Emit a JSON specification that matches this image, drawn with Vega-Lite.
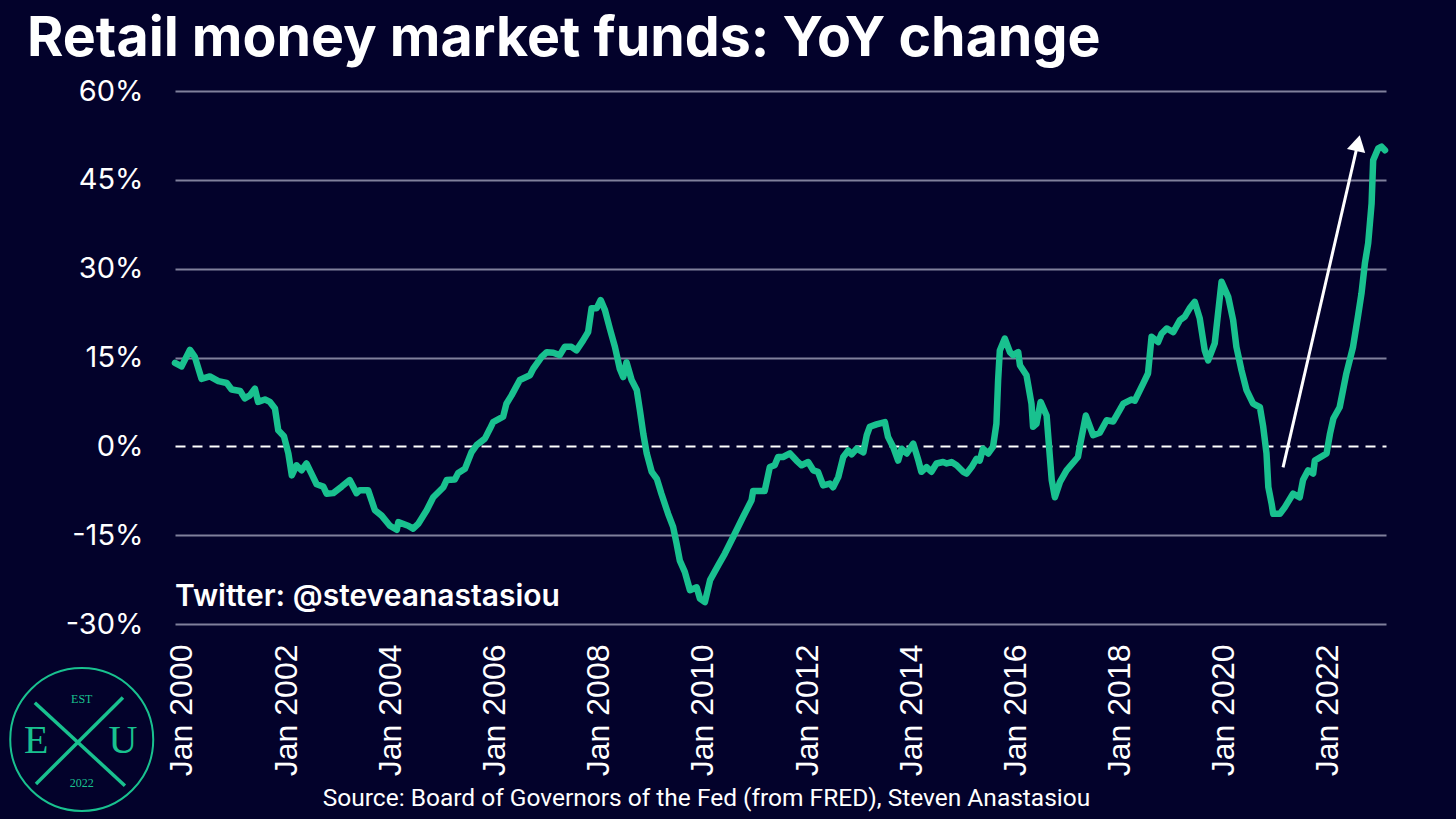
{
 "$schema": "https://vega.github.io/schema/vega-lite/v6.json",
 "width": 1211,
 "height": 533,
 "autosize": {"type": "none"},
 "padding": {"left": 175, "top": 91, "right": 70, "bottom": 195},
 "background": "#03022b",
 "title": {"text": "Retail money market funds: YoY change", "anchor": "start", "frame": "group", "dx": -148, "dy": 55, "offset": 21, "baseline": "alphabetic", "font": "Inter", "fontSize": 55.5, "fontWeight": "bold", "color": "#ffffff"},
 "config": {"view": {"stroke": null}},
 "datasets": {
  "series": [
   {"date":"1999-11-13","v":14.1},{"date":"1999-12-29","v":13.5},{"date":"2000-02-26","v":16.3},{"date":"2000-03-31","v":15.1},{"date":"2000-05-17","v":11.4},{"date":"2000-07-14","v":11.8},{"date":"2000-09-12","v":11.0},{"date":"2000-11-10","v":10.7},{"date":"2000-12-14","v":9.6},{"date":"2001-02-12","v":9.35},{"date":"2001-03-16","v":8.1},{"date":"2001-04-21","v":8.6},{"date":"2001-05-26","v":9.75},{"date":"2001-06-18","v":7.5},{"date":"2001-08-05","v":7.9},{"date":"2001-09-09","v":7.5},{"date":"2001-10-14","v":6.4},{"date":"2001-11-06","v":2.7},{"date":"2001-12-16","v":1.7},{"date":"2002-01-16","v":-1.2},{"date":"2002-02-09","v":-4.9},{"date":"2002-03-14","v":-3.2},{"date":"2002-04-18","v":-4.05},{"date":"2002-05-23","v":-2.9},{"date":"2002-06-27","v":-4.6},{"date":"2002-08-02","v":-6.4},{"date":"2002-09-18","v":-6.8},{"date":"2002-10-11","v":-8.0},{"date":"2002-11-27","v":-7.9},{"date":"2003-01-25","v":-6.8},{"date":"2003-03-22","v":-5.7},{"date":"2003-05-09","v":-7.9},{"date":"2003-06-01","v":-7.4},{"date":"2003-07-29","v":-7.4},{"date":"2003-09-15","v":-10.8},{"date":"2003-11-01","v":-11.7},{"date":"2003-12-29","v":-13.4},{"date":"2004-02-15","v":-14.1},{"date":"2004-02-26","v":-12.8},{"date":"2004-05-05","v":-13.4},{"date":"2004-06-09","v":-13.9},{"date":"2004-07-14","v":-13.1},{"date":"2004-09-12","v":-10.8},{"date":"2004-10-28","v":-8.6},{"date":"2005-01-07","v":-6.9},{"date":"2005-01-30","v":-5.7},{"date":"2005-03-28","v":-5.6},{"date":"2005-04-21","v":-4.5},{"date":"2005-06-07","v":-3.8},{"date":"2005-07-23","v":-1.0},{"date":"2005-08-28","v":0.2},{"date":"2005-10-25","v":1.3},{"date":"2005-11-30","v":3.0},{"date":"2005-12-22","v":4.1},{"date":"2006-03-02","v":5.0},{"date":"2006-03-25","v":7.2},{"date":"2006-04-30","v":8.6},{"date":"2006-06-27","v":11.2},{"date":"2006-09-06","v":12.0},{"date":"2006-09-29","v":13.1},{"date":"2006-11-27","v":15.1},{"date":"2007-01-02","v":15.9},{"date":"2007-02-17","v":15.8},{"date":"2007-04-03","v":15.4},{"date":"2007-05-08","v":16.8},{"date":"2007-06-24","v":16.8},{"date":"2007-07-29","v":16.2},{"date":"2007-09-14","v":17.9},{"date":"2007-10-19","v":19.3},{"date":"2007-11-12","v":23.3},{"date":"2007-12-17","v":23.3},{"date":"2008-01-15","v":24.7},{"date":"2008-02-14","v":23.0},{"date":"2008-03-19","v":19.9},{"date":"2008-04-24","v":16.8},{"date":"2008-05-28","v":13.1},{"date":"2008-06-21","v":11.7},{"date":"2008-07-14","v":14.2},{"date":"2008-08-19","v":11.2},{"date":"2008-09-24","v":9.5},{"date":"2008-10-16","v":6.1},{"date":"2008-11-09","v":2.1},{"date":"2008-12-03","v":-1.2},{"date":"2009-01-07","v":-4.3},{"date":"2009-02-12","v":-5.5},{"date":"2009-03-16","v":-8.0},{"date":"2009-05-02","v":-11.4},{"date":"2009-06-06","v":-13.6},{"date":"2009-06-30","v":-16.4},{"date":"2009-07-23","v":-19.3},{"date":"2009-08-27","v":-21.2},{"date":"2009-10-02","v":-24.3},{"date":"2009-11-18","v":-23.8},{"date":"2009-12-11","v":-25.7},{"date":"2010-01-15","v":-26.3},{"date":"2010-02-20","v":-22.6},{"date":"2010-04-18","v":-20.1},{"date":"2010-06-04","v":-18.1},{"date":"2010-08-01","v":-15.3},{"date":"2010-10-10","v":-11.9},{"date":"2010-12-08","v":-9.1},{"date":"2010-12-19","v":-7.55},{"date":"2011-03-10","v":-7.55},{"date":"2011-04-15","v":-3.5},{"date":"2011-05-19","v":-3.2},{"date":"2011-06-12","v":-1.8},{"date":"2011-07-17","v":-1.8},{"date":"2011-09-03","v":-1.2},{"date":"2011-10-19","v":-2.4},{"date":"2011-11-24","v":-3.2},{"date":"2012-01-09","v":-2.65},{"date":"2012-02-14","v":-4.05},{"date":"2012-03-18","v":-4.3},{"date":"2012-04-23","v":-6.6},{"date":"2012-06-09","v":-6.3},{"date":"2012-07-02","v":-6.9},{"date":"2012-08-07","v":-5.2},{"date":"2012-09-11","v":-1.8},{"date":"2012-10-16","v":-0.7},{"date":"2012-11-09","v":-1.35},{"date":"2012-12-14","v":-0.4},{"date":"2013-01-30","v":-1.0},{"date":"2013-02-23","v":1.9},{"date":"2013-03-16","v":3.3},{"date":"2013-05-02","v":3.7},{"date":"2013-06-30","v":4.1},{"date":"2013-07-22","v":1.6},{"date":"2013-08-27","v":-0.1},{"date":"2013-10-01","v":-2.4},{"date":"2013-10-25","v":-0.4},{"date":"2013-11-30","v":-1.2},{"date":"2014-01-15","v":0.45},{"date":"2014-02-20","v":-2.4},{"date":"2014-03-13","v":-4.3},{"date":"2014-04-18","v":-3.5},{"date":"2014-05-22","v":-4.3},{"date":"2014-06-27","v":-2.9},{"date":"2014-08-12","v":-2.65},{"date":"2014-09-06","v":-2.9},{"date":"2014-10-10","v":-2.65},{"date":"2014-11-15","v":-3.2},{"date":"2014-12-31","v":-4.3},{"date":"2015-01-24","v":-4.6},{"date":"2015-02-28","v":-3.5},{"date":"2015-04-03","v":-2.1},{"date":"2015-04-26","v":-2.4},{"date":"2015-05-19","v":-0.4},{"date":"2015-06-24","v":-1.2},{"date":"2015-07-28","v":-0.1},{"date":"2015-08-21","v":3.8},{"date":"2015-09-02","v":11.2},{"date":"2015-09-14","v":16.2},{"date":"2015-10-19","v":18.2},{"date":"2015-11-24","v":15.9},{"date":"2015-12-16","v":15.4},{"date":"2016-01-21","v":15.9},{"date":"2016-02-02","v":13.7},{"date":"2016-03-19","v":12.0},{"date":"2016-04-23","v":7.2},{"date":"2016-05-04","v":3.3},{"date":"2016-05-28","v":3.8},{"date":"2016-06-26","v":7.5},{"date":"2016-08-07","v":5.2},{"date":"2016-08-30","v":-1.8},{"date":"2016-09-12","v":-5.7},{"date":"2016-10-04","v":-8.6},{"date":"2016-11-09","v":-6.0},{"date":"2016-12-25","v":-4.05},{"date":"2017-03-15","v":-1.8},{"date":"2017-03-27","v":-0.1},{"date":"2017-05-09","v":5.2},{"date":"2017-06-29","v":1.9},{"date":"2017-08-15","v":2.3},{"date":"2017-10-02","v":4.4},{"date":"2017-11-17","v":4.2},{"date":"2018-01-27","v":7.2},{"date":"2018-03-24","v":7.9},{"date":"2018-04-17","v":7.7},{"date":"2018-06-15","v":10.6},{"date":"2018-07-19","v":12.3},{"date":"2018-08-13","v":18.5},{"date":"2018-09-28","v":17.6},{"date":"2018-10-22","v":19.0},{"date":"2018-11-27","v":19.9},{"date":"2019-01-12","v":19.3},{"date":"2019-02-28","v":21.3},{"date":"2019-04-03","v":21.9},{"date":"2019-05-07","v":23.3},{"date":"2019-06-12","v":24.4},{"date":"2019-07-17","v":21.6},{"date":"2019-08-21","v":16.2},{"date":"2019-09-14","v":14.5},{"date":"2019-10-30","v":17.4},{"date":"2019-12-17","v":27.8},{"date":"2020-02-02","v":25.2},{"date":"2020-03-07","v":21.3},{"date":"2020-03-30","v":16.8},{"date":"2020-05-05","v":12.8},{"date":"2020-06-09","v":9.5},{"date":"2020-07-25","v":7.2},{"date":"2020-09-11","v":6.6},{"date":"2020-10-04","v":3.3},{"date":"2020-10-27","v":-1.2},{"date":"2020-11-09","v":-6.9},{"date":"2020-12-02","v":-9.7},{"date":"2020-12-13","v":-11.4},{"date":"2021-01-29","v":-11.4},{"date":"2021-03-04","v":-10.3},{"date":"2021-05-01","v":-8.0},{"date":"2021-06-17","v":-8.6},{"date":"2021-07-10","v":-5.7},{"date":"2021-08-15","v":-4.05},{"date":"2021-09-19","v":-4.6},{"date":"2021-10-01","v":-2.4},{"date":"2021-12-22","v":-1.2},{"date":"2022-01-15","v":2.1},{"date":"2022-02-08","v":4.7},{"date":"2022-03-24","v":6.6},{"date":"2022-05-10","v":12.3},{"date":"2022-06-26","v":16.8},{"date":"2022-07-30","v":21.9},{"date":"2022-08-24","v":25.8},{"date":"2022-09-17","v":30.9},{"date":"2022-10-10","v":34.3},{"date":"2022-11-03","v":41.0},{"date":"2022-11-14","v":48.3},{"date":"2022-12-19","v":50.3},{"date":"2023-01-12","v":50.6},{"date":"2023-02-05","v":50.0}
  ],
  "arrow": [{"date":"2021-02-20","v":-3.55},{"date":"2022-07-30","v":51.2}],
  "head": [{"date":"2022-07-30","v":51.2}],
  "notes": [{"date":"1999-11-13","v":-26.9,"label":"Twitter: @steveanastasiou"}],
  "logoCircle": [{"date":"1998-01-28","v":-49.5}],
  "logoBig": [{"date":"1997-03-15","v":-49.7,"label":"E"},{"date":"1998-11-13","v":-49.7,"label":"U"}],
  "logoSmall": [{"date":"1998-01-28","v":-42.6,"label":"EST"},{"date":"1998-01-28","v":-56.8,"label":"2022"}],
  "logoLines": [{"date":"1997-03-05","v":-43.3,"date2":"1998-11-27","v2":-57.3},{"date":"1998-11-13","v":-42.4,"date2":"1997-03-13","v2":-57.0}]
 },
 "encoding": {
  "x": {"field": "date", "type": "temporal",
   "scale": {"type": "utc", "domain": [{"year":1999,"month":11,"date":13,"utc":true},{"year":2023,"month":2,"date":12,"utc":true}]},
   "axis": {"values": [
     {"year":2000,"month":1,"date":1,"utc":true},{"year":2002,"month":1,"date":1,"utc":true},{"year":2004,"month":1,"date":1,"utc":true},{"year":2006,"month":1,"date":1,"utc":true},{"year":2008,"month":1,"date":1,"utc":true},{"year":2010,"month":1,"date":1,"utc":true},{"year":2012,"month":1,"date":1,"utc":true},{"year":2014,"month":1,"date":1,"utc":true},{"year":2016,"month":1,"date":1,"utc":true},{"year":2018,"month":1,"date":1,"utc":true},{"year":2020,"month":1,"date":1,"utc":true},{"year":2022,"month":1,"date":1,"utc":true}],
    "format": "%b %Y", "labelAngle": 270, "grid": false, "ticks": false, "domain": false,
    "labelFont": "Liberation Sans", "labelFontSize": 32, "labelColor": "#ffffff", "labelPadding": 20,
    "labelOverlap": false, "labelFlush": false,
    "title": "Source: Board of Governors of the Fed (from FRED), Steven Anastasiou",
    "titleFont": "Roboto", "titleFontSize": 24.5, "titleFontWeight": "normal", "titleColor": "#ffffff",
    "titleX": 531, "titleY": 181, "titleAlign": "center", "titleBaseline": "alphabetic"}},
  "y": {"field": "v", "type": "quantitative",
   "scale": {"domain": [-30, 60], "nice": false, "zero": false},
   "axis": {"values": [-30, -15, 0, 15, 30, 45, 60], "labelExpr": "datum.value + '%'", "title": null,
    "domain": false, "ticks": false, "labelFont": "Inter", "labelFontSize": 29, "labelColor": "#ffffff", "labelPadding": 32,
    "gridColor": {"condition": {"test": "datum.value === 0", "value": "#ffffff"}, "value": "#80809c"},
    "gridDash": {"condition": {"test": "datum.value === 0", "value": [10, 7]}, "value": []},
    "gridWidth": 2}}
 },
 "layer": [
  {"data": {"name": "series"}, "mark": {"type": "line", "color": "#19c18f", "strokeWidth": 6.5, "strokeJoin": "round", "strokeCap": "round"}},
  {"data": {"name": "arrow"}, "mark": {"type": "line", "color": "#ffffff", "strokeWidth": 3}},
  {"data": {"name": "head"}, "mark": {"type": "point", "shape": "triangle-up", "angle": 13, "size": 350, "filled": true, "color": "#ffffff", "opacity": 1}},
  {"data": {"name": "notes"}, "mark": {"type": "text", "align": "left", "baseline": "alphabetic", "font": "Inter", "fontSize": 30, "fontWeight": 600, "color": "#ffffff"}, "encoding": {"text": {"field": "label"}}},
  {"data": {"name": "logoCircle"}, "mark": {"type": "point", "shape": "circle", "size": 20449, "filled": false, "stroke": "#19c18f", "strokeWidth": 2, "opacity": 1}},
  {"data": {"name": "logoLines"}, "mark": {"type": "rule", "color": "#19c18f", "strokeWidth": 3.5}, "encoding": {"x2": {"field": "date2"}, "y2": {"field": "v2"}}},
  {"data": {"name": "logoBig"}, "mark": {"type": "text", "align": "center", "baseline": "middle", "font": "Liberation Serif", "fontSize": 40, "color": "#19c18f"}, "encoding": {"text": {"field": "label"}}},
  {"data": {"name": "logoSmall"}, "mark": {"type": "text", "align": "center", "baseline": "middle", "font": "Liberation Serif", "fontSize": 12, "color": "#19c18f"}, "encoding": {"text": {"field": "label"}}}
 ]
}
